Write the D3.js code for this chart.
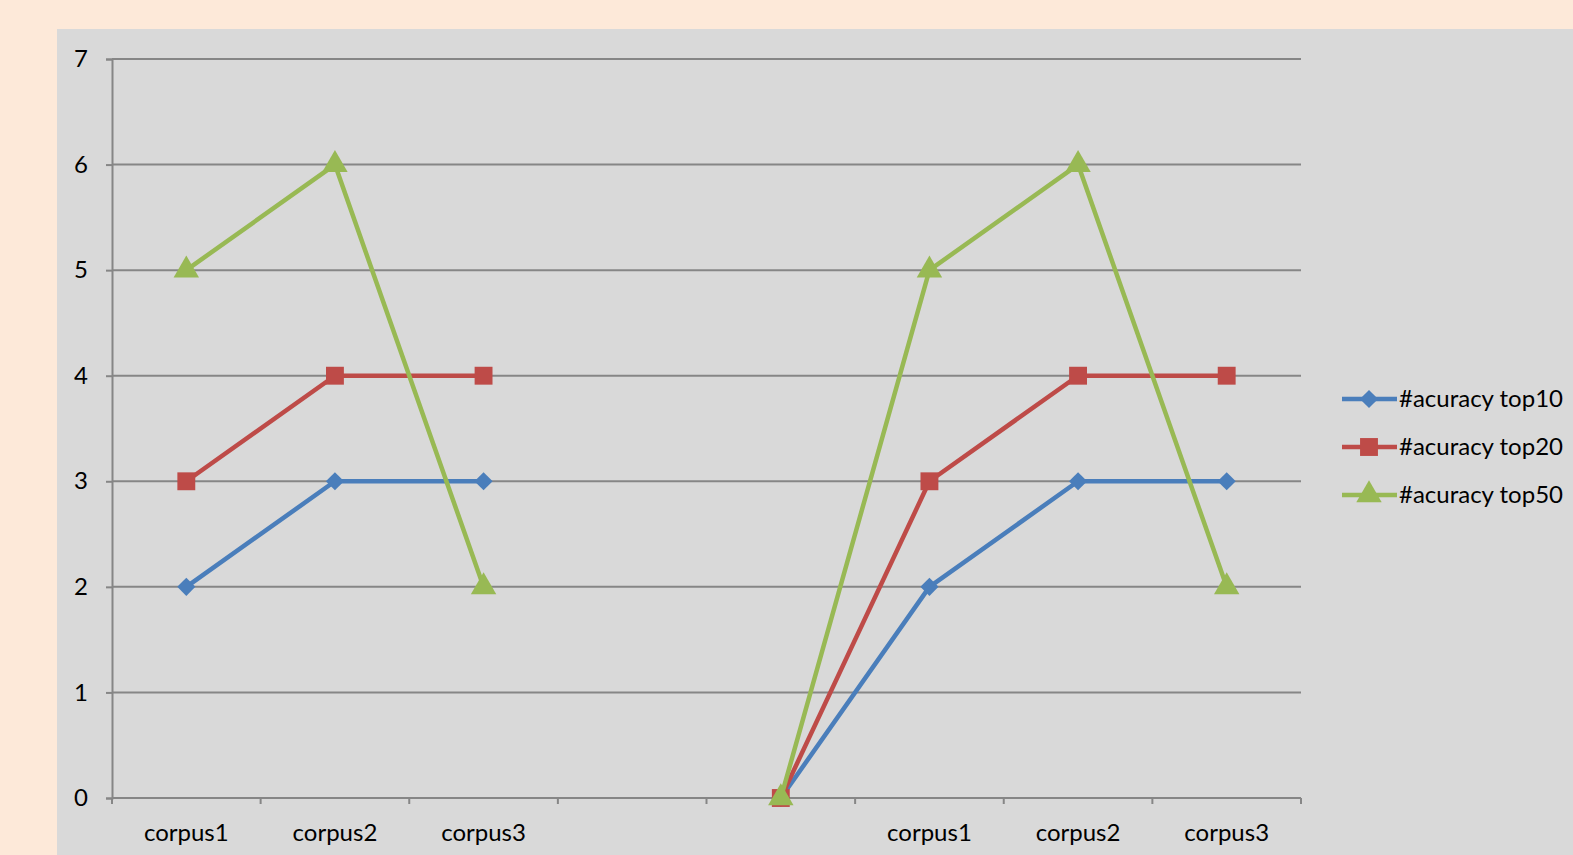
<!DOCTYPE html>
<html>
<head>
<meta charset="utf-8">
<script src="https://cdn.jsdelivr.net/npm/d3@7"></script>
<style>
  html, body { margin: 0; padding: 0; background: #fde9d9; }
  svg { display: block; font-family: Lato, "Open Sans", sans-serif; }
</style>
</head>
<body>
<svg id="chart"></svg>
<script>
// Chart data
const categories = ["corpus1", "corpus2", "corpus3", "", "", "corpus1", "corpus2", "corpus3"];
const top10 = [2, 3, 3, null, 0, 2, 3, 3];
const top20 = [3, 4, 4, null, 0, 3, 4, 4];
const top50 = [5, 6, 2, null, 0, 5, 6, 2];
const seriesNames = ["#acuracy top10", "#acuracy top20", "#acuracy top50"];
const yTicks = [0, 1, 2, 3, 4, 5, 6, 7];

// Colors
const PAGE_BG = "#fde9d9";
const PLOT_BG = "#d9d9d9";
const GRID_COLOR = "#868686";
const COLORS = ["#4a7ebb", "#be4b48", "#98b954"];
const SHAPES = [d3.symbolSquare, d3.symbolSquare, d3.symbolTriangle];
const SIZES = [165, 320, 280];
const ROTATE = [45, 0, 0];
const FONT_SIZE = 24;

const width = 1573;
const height = 855;

const svg = d3.select("#chart")
    .attr("width", width)
    .attr("height", height);

// page + chart area backgrounds
svg.append("rect").attr("width", width).attr("height", height).attr("fill", PAGE_BG);
svg.append("rect").attr("x", 57).attr("y", 29)
    .attr("width", width - 57).attr("height", height - 29).attr("fill", PLOT_BG);

const x = d3.scaleBand().domain(d3.range(categories.length)).range([112, 1301]).padding(0);
const y = d3.scaleLinear().domain([0, 7]).range([798, 59]);

// horizontal gridlines
svg.append("g").selectAll("line")
    .data(yTicks.slice(1))
    .join("line")
    .attr("x1", 112).attr("x2", 1301)
    .attr("y1", d => y(d)).attr("y2", d => y(d))
    .attr("stroke", GRID_COLOR).attr("stroke-width", 2);

// y axis
const yAxis = svg.append("g")
    .attr("transform", "translate(112,0)")
    .call(d3.axisLeft(y).tickValues(yTicks).tickFormat(d3.format("d")).tickSize(6).tickPadding(18));
yAxis.select(".domain").attr("stroke", GRID_COLOR).attr("stroke-width", 2);
yAxis.selectAll(".tick line").attr("stroke", GRID_COLOR).attr("stroke-width", 2);
yAxis.selectAll(".tick text").attr("font-size", FONT_SIZE).attr("fill", "#000")
    .style("font-family", "Lato, 'Open Sans', sans-serif");

// x axis with ticks at category boundaries
const xAxis = svg.append("g").attr("transform", `translate(0,${y(0)})`);
xAxis.append("line")
    .attr("x1", 112).attr("x2", 1301)
    .attr("stroke", GRID_COLOR).attr("stroke-width", 2);
xAxis.selectAll(".xtick")
    .data(d3.range(categories.length + 1))
    .join("line")
    .attr("class", "xtick")
    .attr("x1", i => 112 + i * x.bandwidth()).attr("x2", i => 112 + i * x.bandwidth())
    .attr("y1", 0).attr("y2", 6)
    .attr("stroke", GRID_COLOR).attr("stroke-width", 2);
xAxis.selectAll(".xlabel")
    .data(categories)
    .join("text")
    .attr("class", "xlabel")
    .attr("x", (d, i) => x(i) + x.bandwidth() / 2)
    .attr("y", 43)
    .attr("text-anchor", "middle")
    .attr("font-size", FONT_SIZE)
    .attr("fill", "#000")
    .text(d => d);

// series
const allSeries = [top10, top20, top50];
const line = d3.line()
    .defined(d => d != null)
    .x((d, i) => x(i) + x.bandwidth() / 2)
    .y(d => y(d));

allSeries.forEach((vals, s) => {
    const g = svg.append("g");
    g.append("path")
        .attr("d", line(vals))
        .attr("fill", "none")
        .attr("stroke", COLORS[s])
        .attr("stroke-width", 4.5)
        .attr("stroke-linejoin", "round");
    g.selectAll("path.marker")
        .data(vals.map((v, i) => ({ v, i })).filter(d => d.v != null))
        .join("path")
        .attr("class", "marker")
        .attr("d", d3.symbol().type(SHAPES[s]).size(SIZES[s]))
        .attr("transform", d => `translate(${x(d.i) + x.bandwidth() / 2},${y(d.v)}) rotate(${ROTATE[s]})`)
        .attr("fill", COLORS[s]);
});

// legend
const legend = svg.append("g").attr("transform", "translate(1342,399)");
seriesNames.forEach((name, s) => {
    const row = legend.append("g").attr("transform", `translate(0,${s * 48})`);
    row.append("line").attr("x1", 0).attr("x2", 55)
        .attr("stroke", COLORS[s]).attr("stroke-width", 4.5);
    row.append("path")
        .attr("d", d3.symbol().type(SHAPES[s]).size(SIZES[s]))
        .attr("transform", `translate(27,0) rotate(${ROTATE[s]})`)
        .attr("fill", COLORS[s]);
    row.append("text")
        .attr("x", 57).attr("y", 8)
        .attr("font-size", FONT_SIZE).attr("fill", "#000")
        .text(name);
});
</script>
</body>
</html>
